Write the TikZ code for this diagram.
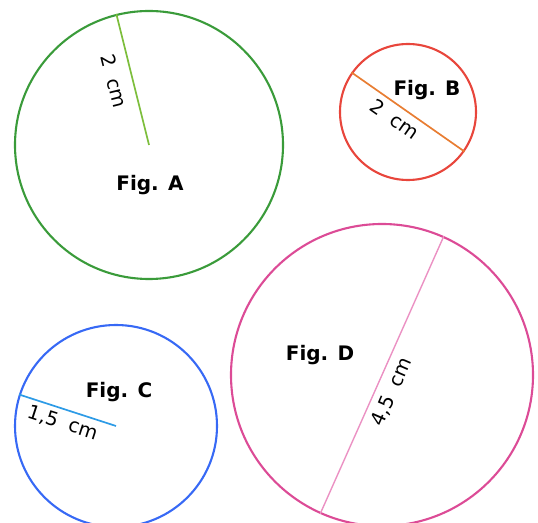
\documentclass[tikz,border=0pt]{standalone}
\usepackage{fontspec}
\setmainfont{DejaVu Sans}
\definecolor{ringA}{RGB}{58,155,58}
\definecolor{lineA}{RGB}{125,190,60}
\definecolor{ringB}{RGB}{232,70,60}
\definecolor{lineB}{RGB}{232,125,50}
\definecolor{ringC}{RGB}{55,105,245}
\definecolor{lineC}{RGB}{45,155,230}
\definecolor{ringD}{RGB}{220,75,150}
\definecolor{lineD}{RGB}{235,145,195}
\begin{document}
\begin{tikzpicture}[x=1pt,y=1pt,
  ring/.style={circle,draw,line width=2.1pt,inner sep=0pt},
  figlabel/.style={font=\fontsize{20}{22}\selectfont\bfseries},
  measure/.style={font=\fontsize{19.5}{22}\selectfont,inner sep=0pt}]
\useasboundingbox (0,0) rectangle (538,522);
\clip (0,0) rectangle (538,522);
\node[ring,draw=ringA,minimum size=268pt] (A) at (149,377) {};
\node[ring,draw=ringB,minimum size=136pt] (B) at (408,410) {};
\node[ring,draw=ringC,minimum size=202pt] (C) at (116,96) {};
\node[ring,draw=ringD,minimum size=302pt] (D) at (382,147) {};
% radii and diameters
\draw[lineA,line width=1.7pt] (A.104.7) -- (A.center);
\draw[lineB,line width=1.7pt] (B.145) -- (B.-35);
\draw[lineC,line width=1.7pt] (C.162) -- (C.center);
\draw[lineD,line width=1.4pt] (D.66.5) -- (D.246.5);
\node[measure,rotate=-76] (la) at (114,441) {2\ \ cm};
\node[measure,rotate=-35] (lb) at (395,403) {2\ \ cm};
\node[measure,rotate=-18] (lc) at (63,99) {1,5\ \ cm};
\node[measure,rotate=66.5] (ld) at (392,130) {4,5\ \ cm};
\node[figlabel] (fa) at (150,337) {Fig. A};
\node[figlabel] (fb) at (427,432) {Fig. B};
\node[figlabel] (fc) at (119,130) {Fig. C};
\node[figlabel] (fd) at (320,167) {Fig. D};
\end{tikzpicture}
\end{document}
